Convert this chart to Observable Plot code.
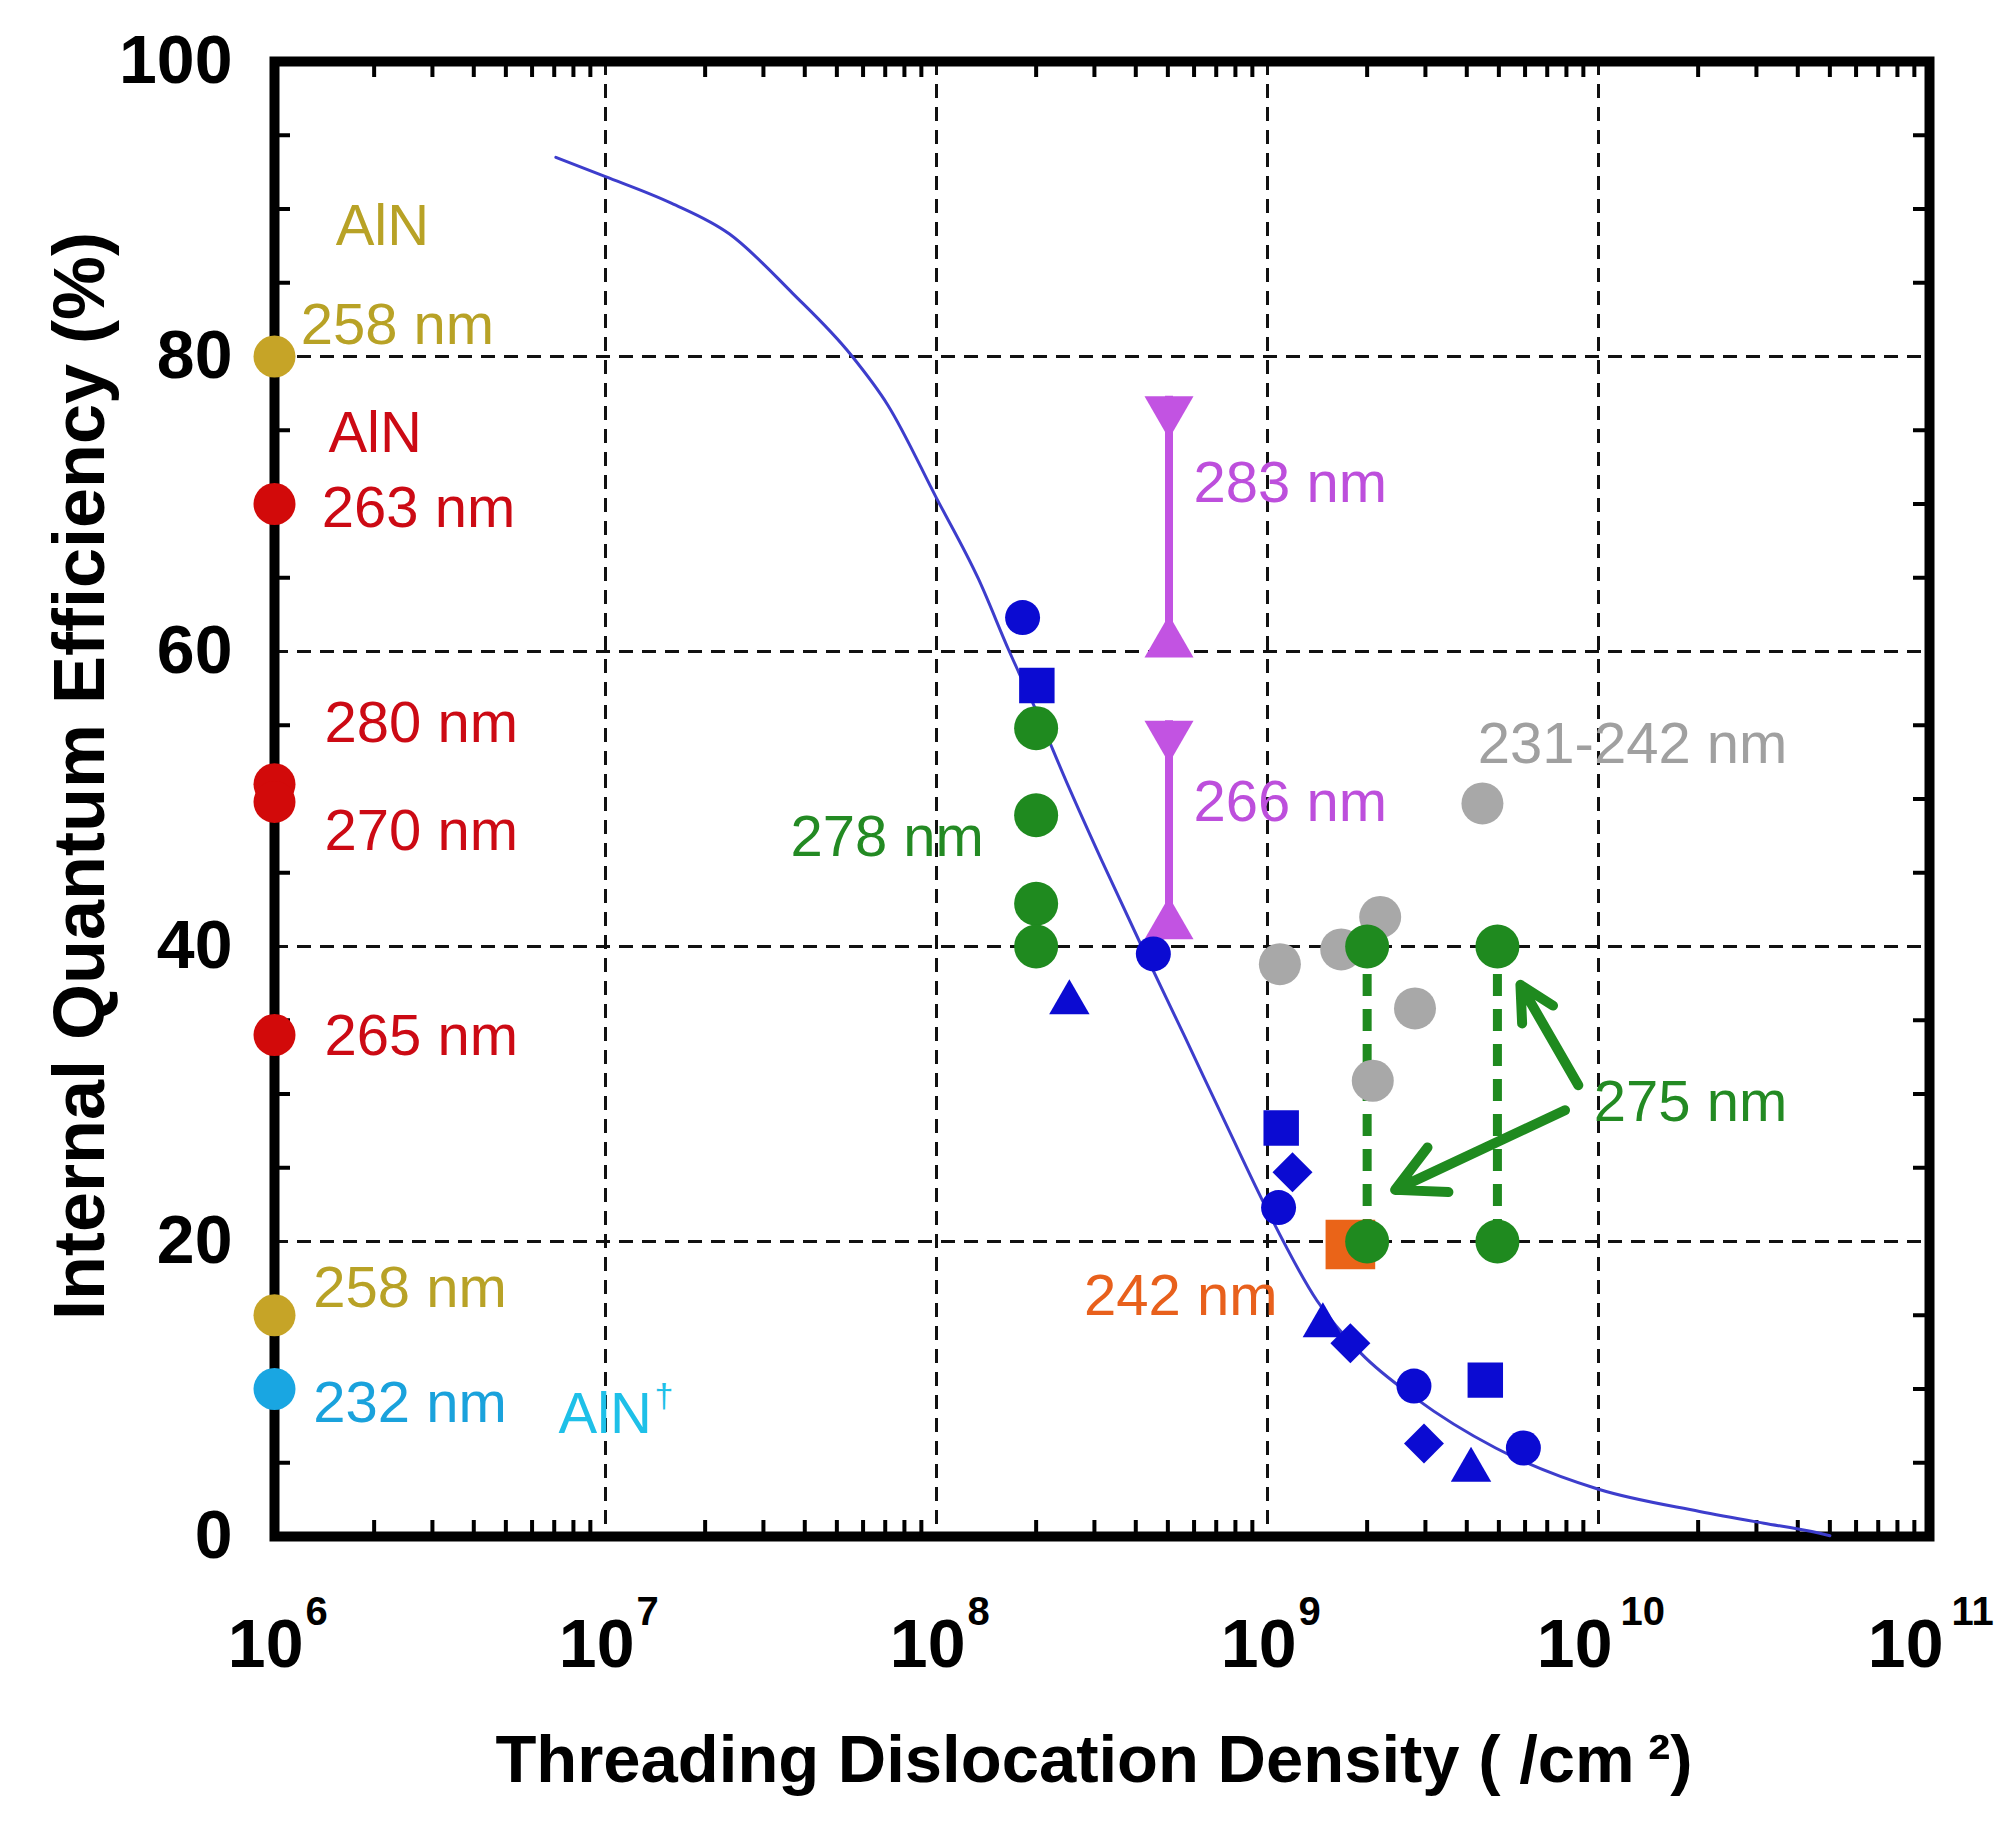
<!DOCTYPE html>
<html><head><meta charset="utf-8">
<script src="https://cdn.jsdelivr.net/npm/d3@7"></script>
<script src="https://cdn.jsdelivr.net/npm/@observablehq/plot@0.6"></script>
<style>
html,body{margin:0;padding:0;background:#fff;}
svg text{font-family:"Liberation Sans",Arial,Helvetica,sans-serif;}
</style>
</head><body><div id="chart"></div>
<script>
// ---------- data ----------
const xTickValues = [1e6, 1e7, 1e8, 1e9, 1e10, 1e11];
const xTickExps = ["6", "7", "8", "9", "10", "11"];
const yTickValues = [0, 20, 40, 60, 80, 100];
const xGrid = [1e7, 1e8, 1e9, 1e10];
const yGrid = [20, 40, 60, 80];
const yMinor = [5, 10, 15, 25, 30, 35, 45, 50, 55, 65, 70, 75, 85, 90, 95];
const xMinorMult = [2, 3, 4, 5, 6, 7, 8, 9];
const xMinorDecades = [1e6, 1e7, 1e8, 1e9, 1e10];

// fitted curve
const curveX = [7.08e6, 1e7, 1.58e7, 2.37e7, 3.67e7, 5.52e7, 7.13e7, 1e8, 1.34e8, 1.66e8, 2.0e8, 2.51e8, 3.16e8, 4.17e8, 5.62e8, 7.55e8, 1e9, 1.41e9, 1.92e9, 2.79e9, 4.89e9, 1e10, 2.02e10, 3.16e10, 4.37e10, 5.0e10];
const curveY = [93.5, 92.2, 90.4, 88.3, 84.3, 80.1, 76.7, 70.4, 64.9, 60.0, 56.0, 50.8, 45.8, 40.0, 33.9, 27.8, 22.1, 16.0, 12.4, 9.4, 6.0, 3.2, 1.7, 0.9, 0.35, 0.05];

// blue markers
const blueX = [1.82e8, 2.01e8, 4.52e8, 2.52e8, 1.10e9, 1.19e9, 1.08e9, 1.47e9, 1.78e9, 2.77e9, 4.55e9, 2.97e9, 4.12e9, 5.93e9];
const blueY = [62.3, 57.7, 39.5, 36.2, 27.7, 24.7, 22.3, 14.3, 13.1, 10.2, 10.6, 6.3, 4.5, 6.0];
const blueShape = ["circle", "square", "circle", "triangle", "square", "diamond2", "circle", "triangle", "diamond2", "circle", "square", "diamond2", "triangle", "circle"];

// points on the left axis (10^6)
const leftX = 1e6;
const leftY = [80, 70, 51, 49.8, 34, 15, 10];
const leftColor = ["#c6a427", "#d20a0a", "#d20a0a", "#d20a0a", "#d20a0a", "#c6a427", "#19a6e2"];

// 278 nm green column
const g278X = 2.0e8;
const g278Y = [54.8, 48.9, 42.9, 40.0];

// magenta ranges (283 nm, 266 nm)
const magX = 5.04e8;
const magLow = [59.6, 40.5];
const magHigh = [77.3, 55.3];

// gray 231-242 nm
const grayX = [4.46e9, 1.09e9, 1.67e9, 2.19e9, 2.79e9, 2.08e9];
const grayY = [49.7, 38.8, 39.8, 42.0, 35.8, 30.9];

// 275 nm green pairs
const g275X = [2.0e9, 4.95e9];
const g275Low = [20, 20];
const g275High = [40, 40];

// orange 242 nm
const orangeX = [1.78e9];
const orangeY = [19.8];

// arrows for 275 nm
const arrowX1 = [7.92e9, 8.69e9];
const arrowY1 = [28.9, 30.6];
const arrowX2 = [2.43e9, 5.81e9];
const arrowY2 = [23.5, 37.4];

// text labels
const labelText = ["AlN", "258 nm", "AlN", "263 nm", "280 nm", "270 nm", "265 nm", "258 nm", "232 nm", "AlN", "278 nm", "283 nm", "266 nm", "231-242 nm", "275 nm", "242 nm"];
const labelX = [1.53e6, 1.20e6, 1.455e6, 1.39e6, 1.416e6, 1.416e6, 1.416e6, 1.31e6, 1.31e6, 7.21e6, 3.62e7, 5.98e8, 5.98e8, 4.32e9, 9.68e9, 2.79e8];
const labelY = [88.8, 82.1, 74.8, 69.7, 55.1, 47.8, 33.9, 16.85, 9.0, 8.3, 47.4, 71.4, 49.8, 53.7, 29.4, 16.3];
const labelColor = ["#b8a226", "#b8a226", "#cc0a14", "#cc0a14", "#cc0a14", "#cc0a14", "#cc0a14", "#b8a226", "#1aa2dc", "#1ec0e8", "#238a23", "#bd4fdc", "#bd4fdc", "#a0a0a0", "#238a23", "#e8601c"];

const xTitle = "Threading Dislocation Density ( /cm\u2009\u00b2)";
const yTitle = "Internal Quantum Efficiency (%)";

// ---------- build ----------
const W = 2015, H = 1830, ML = 274, MR = 86, MT = 61, MB = 294;
const PW = W - ML - MR, PH = H - MT - MB;

const xMinor = [];
for (const d of xMinorDecades) for (const m of xMinorMult) xMinor.push(d * m);

const curve = curveX.map((x, i) => ({x, y: curveY[i]}));
const blue = blueX.map((x, i) => ({x, y: blueY[i], s: blueShape[i]}));
const left = leftY.map((y, i) => ({x: leftX, y, c: leftColor[i]}));
const mag = magLow.map((lo, i) => ({x: magX, lo, hi: magHigh[i]}));
const gray = grayX.map((x, i) => ({x, y: grayY[i]}));
const g275 = g275X.map((x, i) => ({x, lo: g275Low[i], hi: g275High[i]}));
const g275pts = g275.flatMap(d => [{x: d.x, y: d.lo}, {x: d.x, y: d.hi}]);
const arrows = arrowX1.map((x1, i) => ({x1, y1: arrowY1[i], x2: arrowX2[i], y2: arrowY2[i]}));
const labels = labelText.map((t, i) => ({t, x: labelX[i], y: labelY[i], c: labelColor[i]}));
const xt = xTickValues.map((v, i) => ({v, e: xTickExps[i]}));
const blueColor = "#0b0bd2";
const green = "#1f8a1f";
const magenta = "#c253e2";

const chart = Plot.plot({
  width: W, height: H,
  marginLeft: ML, marginRight: MR, marginTop: MT, marginBottom: MB,
  x: {type: "log", domain: [1e6, 1e11], axis: null},
  y: {domain: [0, 100], axis: null},
  color: {type: "identity"},
  style: {background: "#fff", fontFamily: "'Liberation Sans', Arial, sans-serif"},
  marks: [
    // grid
    Plot.ruleX(xGrid, {stroke: "#111", strokeWidth: 3, strokeDasharray: "14,9"}),
    Plot.ruleY(yGrid, {stroke: "#111", strokeWidth: 3, strokeDasharray: "14,9"}),
    // minor ticks (inside frame)
    Plot.tickX(xMinor, {x: d => d, insetTop: PH - 16, stroke: "#000", strokeWidth: 4}),
    Plot.tickX(xMinor, {x: d => d, insetBottom: PH - 16, stroke: "#000", strokeWidth: 4}),
    Plot.tickY(yMinor, {y: d => d, insetRight: PW - 16, stroke: "#000", strokeWidth: 4}),
    Plot.tickY(yMinor, {y: d => d, insetLeft: PW - 16, stroke: "#000", strokeWidth: 4}),
    // frame
    Plot.frame({stroke: "#000", strokeWidth: 10}),
    // curve
    Plot.line(curve, {x: "x", y: "y", stroke: "#3d3dcc", strokeWidth: 3, curve: "monotone-x"}),
    // 275 nm dashed connectors
    Plot.ruleX(g275, {x: "x", y1: "lo", y2: "hi", stroke: green, strokeWidth: 9, strokeDasharray: "22,13"}),
    // magenta ranges
    Plot.ruleX(mag, {x: "x", y1: "lo", y2: "hi", stroke: magenta, strokeWidth: 8}),
    Plot.dot(mag, {x: "x", y: "lo", symbol: "triangle", r: 18.2, fill: magenta, dy: -14}),
    Plot.dot(mag, {x: "x", y: "hi", symbol: "triangle", r: 18.2, fill: magenta, dy: 14, rotate: 180}),
    // gray
    Plot.dot(gray, {x: "x", y: "y", r: 21, fill: "#a8a8a8"}),
    // orange square
    Plot.dot(orangeX.map((x, i) => ({x, y: orangeY[i]})), {x: "x", y: "y", symbol: "square", r: 28, fill: "#ea6418"}),
    // green 278 & 275
    Plot.dot(g278Y.map(y => ({x: g278X, y})), {x: "x", y: "y", r: 22, fill: green}),
    Plot.dot(g275pts, {x: "x", y: "y", r: 22, fill: green}),
    // blue markers
    Plot.dot(blue.filter(d => d.s === "circle"), {x: "x", y: "y", r: 17.5, fill: blueColor}),
    Plot.dot(blue.filter(d => d.s === "square"), {x: "x", y: "y", symbol: "square", r: 20, fill: blueColor}),
    Plot.dot(blue.filter(d => d.s === "triangle"), {x: "x", y: "y", symbol: "triangle", r: 15, fill: blueColor}),
    Plot.dot(blue.filter(d => d.s === "diamond2"), {x: "x", y: "y", symbol: "diamond2", r: 18, fill: blueColor}),
    // left-axis points
    Plot.dot(left, {x: "x", y: "y", r: 21, fill: "c"}),
    // arrows
    Plot.arrow(arrows, {x1: "x1", y1: "y1", x2: "x2", y2: "y2", stroke: green, strokeWidth: 10, headLength: 8, headAngle: 55}),
    // labels
    Plot.text(labels, {x: "x", y: "y", text: "t", fill: "c", fontSize: 58, textAnchor: "start", lineAnchor: "middle"}),
    Plot.text(labels.filter((d, i) => i === 9), {x: "x", y: "y", text: () => "\u2020", fill: "c", fontSize: 34, textAnchor: "start", lineAnchor: "middle", dx: 96, dy: -18}),
    // y tick labels
    Plot.text(yTickValues, {frameAnchor: "left", y: d => d, text: d => String(d), textAnchor: "end", lineAnchor: "middle", dx: -42, fontSize: 68, fontWeight: "bold", fill: "#000"}),
    // x tick labels: base "10" and exponent
    Plot.text(xt.filter(d => d.e.length === 1), {frameAnchor: "bottom", x: "v", text: () => "10", textAnchor: "end", lineAnchor: "middle", dx: 29, dy: 109, fontSize: 68, fontWeight: "bold", fill: "#000"}),
    Plot.text(xt.filter(d => d.e.length === 1), {frameAnchor: "bottom", x: "v", text: "e", textAnchor: "start", lineAnchor: "middle", dx: 31, dy: 76, fontSize: 40, fontWeight: "bold", fill: "#000"}),
    Plot.text(xt.filter(d => d.e.length === 2), {frameAnchor: "bottom", x: "v", text: () => "10", textAnchor: "end", lineAnchor: "middle", dx: 14, dy: 109, fontSize: 68, fontWeight: "bold", fill: "#000"}),
    Plot.text(xt.filter(d => d.e.length === 2), {frameAnchor: "bottom", x: "v", text: "e", textAnchor: "start", lineAnchor: "middle", dx: 22, dy: 76, fontSize: 40, fontWeight: "bold", fill: "#000"}),
    // axis titles
    Plot.text([xTitle], {frameAnchor: "bottom", text: d => d, textAnchor: "middle", lineAnchor: "middle", dx: -8, dy: 224, fontSize: 67, fontWeight: "bold", fill: "#000"}),
    Plot.text([yTitle], {frameAnchor: "left", text: d => d, textAnchor: "middle", lineAnchor: "middle", rotate: -90, dx: -194, dy: -23, fontSize: 72, fontWeight: "bold", fill: "#000"})
  ]
});
document.getElementById("chart").appendChild(chart);
</script>
</body></html>
